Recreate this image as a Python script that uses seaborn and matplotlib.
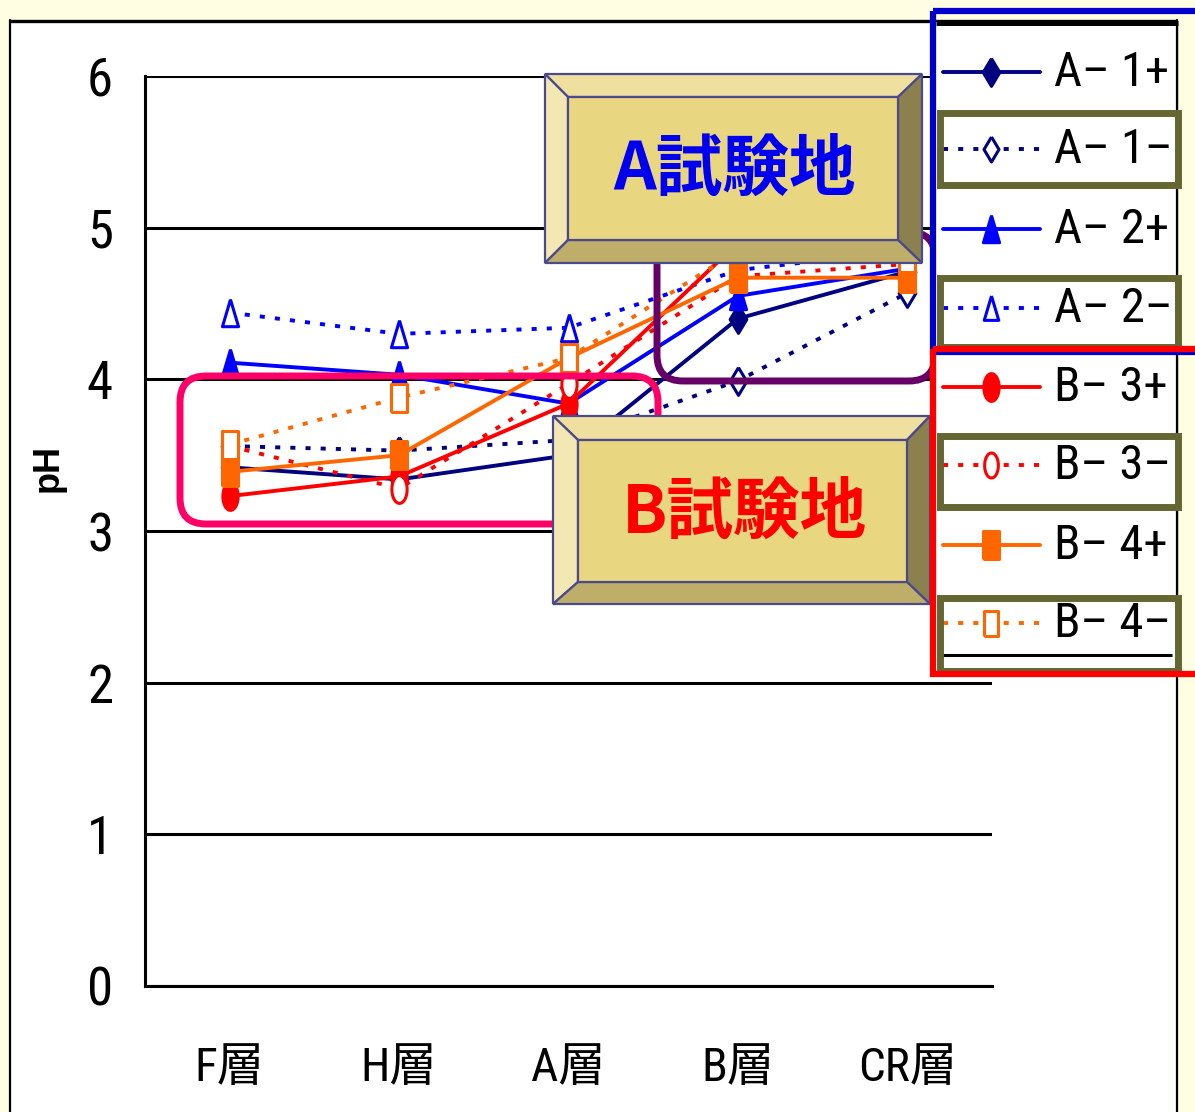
import numpy as np
import pandas as pd
import matplotlib
matplotlib.use("Agg")
import matplotlib.pyplot as plt
import seaborn as sns
from matplotlib import font_manager as fm
from matplotlib.patches import Polygon, Rectangle, FancyBboxPatch
from matplotlib.lines import Line2D

# ---- data -------------------------------------------------------------
layers = ["F層", "H層", "A層", "B層", "CR層"]
a1_plus = [3.42, 3.34, 3.50, 4.40, 4.71]
a1_minus = [3.56, 3.53, 3.60, 3.99, 4.57]
a2_plus = [4.11, 4.03, 3.84, 4.55, 4.73]
a2_minus = [4.44, 4.30, 4.34, 4.72, 4.85]
b3_plus = [3.23, 3.36, 3.84, 4.90, 4.80]
b3_minus = [3.56, 3.28, 3.97, 4.68, 4.76]
b4_plus = [3.39, 3.50, 4.14, 4.67, 4.67]
b4_minus = [3.57, 3.88, 4.14, 4.85, 4.80]
series_names = ["A– 1+", "A– 1–", "A– 2+", "A– 2–", "B– 3+", "B– 3–", "B– 4+", "B– 4–"]
series_values = [a1_plus, a1_minus, a2_plus, a2_minus, b3_plus, b3_minus, b4_plus, b4_minus]
y_ticks = [0, 1, 2, 3, 4, 5, 6]
site_labels = ["A試験地", "B試験地"]

# ---- styling ----------------------------------------------------------
W, H = 1195, 1112
sns.set_style("white")
names = {f.name for f in fm.fontManager.ttflist}
narrow = next((n for n in ["Liberation Sans Narrow", "Arial Narrow", "Roboto Condensed"]
               if n in names), "Liberation Sans")
plt.rcParams["font.family"] = [narrow, "Noto Sans CJK JP", "DejaVu Sans"]
plt.rcParams.update({"text.color": "black", "axes.labelcolor": "black",
                     "xtick.color": "black", "ytick.color": "black"})

NAVY, BLUE, RED, ORANGE = "#000080", "#0000FF", "#FF0000", "#FF6600"
OLIVE = "#666633"

diamond = [(0, 1), (0.6, 0), (0, -1), (-0.6, 0), (0, 1)]
triangle = [(0, 1), (0.58, -0.95), (-0.58, -0.95), (0, 1)]
_t = np.linspace(0, 2 * np.pi, 41)
ellipse = list(zip(0.55 * np.cos(_t), np.sin(_t)))
rect = [(-0.55, -1), (0.55, -1), (0.55, 1), (-0.55, 1), (-0.55, -1)]

colors = [NAVY, NAVY, BLUE, BLUE, RED, RED, ORANGE, ORANGE]
markers = [diamond, diamond, triangle, triangle, ellipse, ellipse, rect, rect]
filled = [True, False, True, False, True, False, True, False]
LW = 2.8
DOTTED = (0, (1.3, 2.6))

df = pd.DataFrame({"layer": np.tile(layers, len(series_names)),
                   "series": np.repeat(series_names, len(layers)),
                   "pH": np.concatenate(series_values)})

fig = plt.figure(figsize=(W / 100, H / 100), dpi=100, facecolor="#FFFDE2")

# chart area background (pixel coordinates)
bg = fig.add_axes([0, 0, 1, 1], zorder=-5)
bg.set_xlim(0, W); bg.set_ylim(H, 0); bg.axis("off")
bg.add_patch(Rectangle((10, 20), 1167, H, facecolor="white", edgecolor="none"))

# ---- main plot --------------------------------------------------------
ax = fig.add_axes([145 / W, (H - 986) / H, 847 / W, 910 / H], zorder=0)
ax.patch.set_alpha(0)
for i, name in enumerate(series_names):
    sub = df[df["series"] == name]
    sns.lineplot(data=sub, x="layer", y="pH", ax=ax, sort=False,
                 color=colors[i], linewidth=LW,
                 linestyle="-" if filled[i] else DOTTED,
                 marker=markers[i], markersize=20,
                 markerfacecolor=colors[i] if filled[i] else "white",
                 markeredgecolor=colors[i], markeredgewidth=2.2,
                 zorder=3 + i)

ax.set_xlim(-0.5, 4.5)
ax.set_ylim(0, 6)
ax.set_yticks(y_ticks)
ax.set_xticks(range(len(layers)))
ax.set_xticklabels(layers)
ax.set_xticks(np.arange(-0.5, len(layers), 1), minor=True)
ax.yaxis.grid(True, color="black", linewidth=2.2)
ax.xaxis.grid(False)
for s in ["top", "right"]:
    ax.spines[s].set_visible(False)
for s in ["left", "bottom"]:
    ax.spines[s].set_color("black")
    ax.spines[s].set_linewidth(2.2)
ax.tick_params(axis="x", which="major", length=0, pad=43, labelsize=34, labelcolor="black")
ax.tick_params(axis="x", which="minor", direction="in", length=11, width=2, color="black")
ax.tick_params(axis="y", length=0, pad=23, labelsize=38, labelcolor="black")
ax.set_xlabel("")
ax.set_ylabel("pH", fontsize=26, fontweight="bold", family="Liberation Sans", color="black",
              rotation=90, va="center", ha="center")
ax.yaxis.set_label_coords((48 - 145) / 847, (986 - 468) / 910)

# ---- overlay: highlights, title boxes, legend ----------------------------
ov = fig.add_axes([0, 0, 1, 1], zorder=5)
ov.set_xlim(0, W); ov.set_ylim(H, 0); ov.axis("off")
ov.patch.set_alpha(0)

# chart area border
ov.plot([10, 1177], [21, 21], color="black", lw=2.4, solid_capstyle="butt", zorder=1)
ov.plot([10, 10], [20, H], color="black", lw=1.6, zorder=1)
ov.plot([1177, 1177], [20, H], color="black", lw=1.6, zorder=1)

# rounded highlight frames
ov.add_patch(FancyBboxPatch((180, 376), 478, 148, boxstyle="round,pad=0,rounding_size=26",
                            facecolor="none", edgecolor="#FF0066", lw=5, zorder=2))
ov.add_patch(FancyBboxPatch((657, 232), 278, 149, boxstyle="round,pad=0,rounding_size=26",
                            facecolor="none", edgecolor="#660066", lw=5, zorder=2))


def bevel_box(x0, y0, x1, y1, ix0, iy0, ix1, iy1, text, tcolor):
    edge = "#4A4A8C"
    parts = [
        ([(x0, y0), (x1, y0), (ix1, iy0), (ix0, iy0)], "#EFE0A0"),
        ([(x0, y0), (ix0, iy0), (ix0, iy1), (x0, y1)], "#F3E7B3"),
        ([(x1, y0), (x1, y1), (ix1, iy1), (ix1, iy0)], "#8C804F"),
        ([(x0, y1), (x1, y1), (ix1, iy1), (ix0, iy1)], "#BFAE6A"),
        ([(ix0, iy0), (ix1, iy0), (ix1, iy1), (ix0, iy1)], "#E9D681"),
    ]
    for pts, fc in parts:
        ov.add_patch(Polygon(pts, closed=True, facecolor=fc, edgecolor=edge,
                             lw=1.6, joinstyle="miter", zorder=4))
    ov.text((ix0 + ix1) / 2 + 2, (iy0 + iy1) / 2 + 2, text, color=tcolor,
            fontsize=48, fontweight="bold", family=["Noto Sans CJK JP"],
            ha="center", va="center", zorder=5)


bevel_box(545, 74, 922, 263, 568, 97, 898, 240, site_labels[0], "#0000EE")
bevel_box(553, 416, 930, 604, 578, 440, 907, 582, site_labels[1], "#FF0000")

# legend
ov.add_patch(Rectangle((936, 22), 241, 634, facecolor="white", edgecolor="none", zorder=6))
ov.plot([936, 1178], [23, 23], color="black", lw=3.6, solid_capstyle="butt", zorder=7)
ov.plot([940, 1172], [655, 655], color="black", lw=2.2, solid_capstyle="butt", zorder=7)
ov.plot([1177, 1177], [22, 656], color="black", lw=1.6, zorder=7)
row_y = [72, 149, 229, 308, 387, 465, 545, 623]
for i, name in enumerate(series_names):
    y = row_y[i]
    ov.add_line(Line2D([943, 1040], [y, y], color=colors[i], lw=LW,
                       linestyle="-" if filled[i] else DOTTED, zorder=8))
    ov.add_line(Line2D([991], [y], marker=markers[i], markersize=20 if filled[i] else 18,
                       markerfacecolor=colors[i] if filled[i] else "white",
                       markeredgecolor=colors[i], markeredgewidth=2.2,
                       linestyle="none", zorder=9))
    ov.text(1054, y + 1, name, fontsize=35, color="black", ha="left", va="center",
            family=[narrow, "DejaVu Sans"], zorder=9)

for (y0, y1) in [(113, 185), (278, 347), (436, 507), (598, 671)]:
    ov.add_patch(Rectangle((940, y0), 238, y1 - y0, facecolor="none", edgecolor=OLIVE,
                           lw=5, joinstyle="miter", zorder=10))

ov.add_patch(Rectangle((933, 11), 300, 341, facecolor="none", edgecolor="#0000CC",
                       lw=4.5, joinstyle="miter", zorder=11))
ov.add_patch(Rectangle((933, 349), 300, 325, facecolor="none", edgecolor="#FF0000",
                       lw=4.5, joinstyle="miter", zorder=11))

fig.savefig("out.png", dpi=100, facecolor=fig.get_facecolor())
